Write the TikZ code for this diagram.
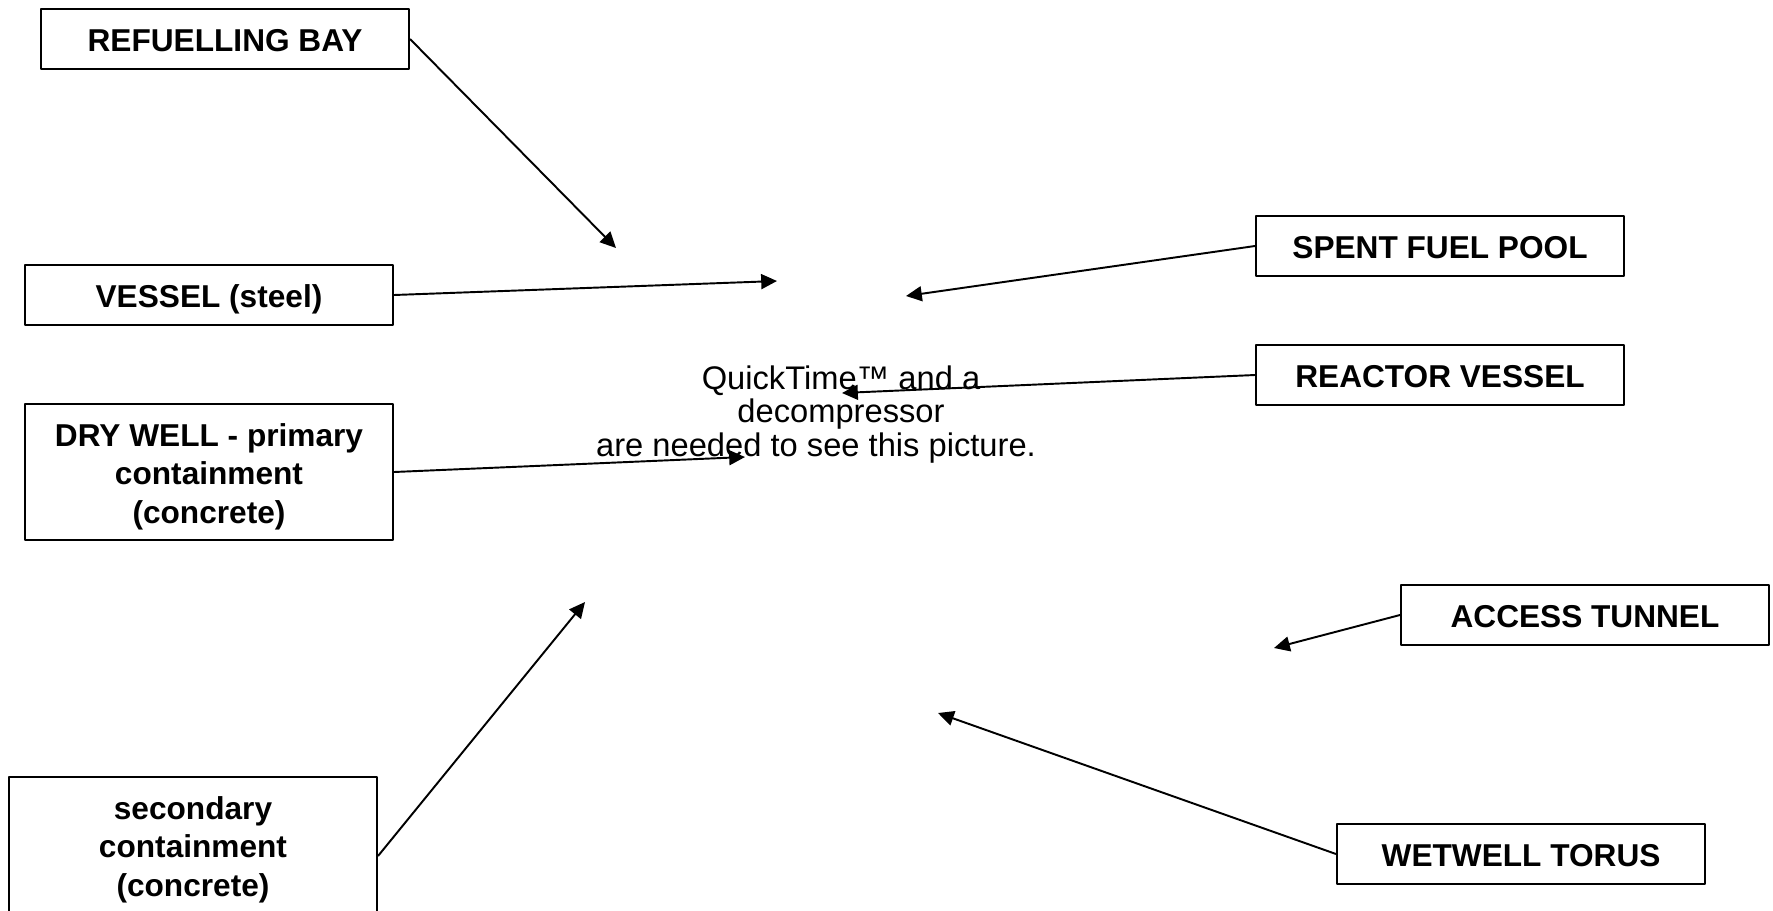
\documentclass[tikz,border=0pt]{standalone}
\usepackage{fontspec}
\setmainfont{Liberation Sans}
\usepackage{tikz}
\usetikzlibrary{arrows.meta,positioning}

\begin{document}
\begin{tikzpicture}[x=0.02cm,y=-0.02cm,line join=round,
    partbox/.style={draw,line width=1.2pt,align=center,inner xsep=2pt,inner ysep=0pt,
      minimum width=7.36cm,text height=24pt,text depth=10pt,
      font=\fontsize{18}{21.8}\selectfont\bfseries},
    tallbox/.style={partbox,text height=67.6pt,text depth=9.5pt},
    pointer/.style={line width=1.1pt,-{Triangle[length=9pt,width=8.5pt]}}]
  \useasboundingbox[fill=white] (0,0) rectangle (1773,910);

  % ---------- missing picture placeholder ----------
  \node[align=center,font=\fontsize{18.6}{18.9}\selectfont] (qt) at (841,414.5)
    {QuickTime™ and a\\decompressor\\are needed to see this picture.\kern1cm};

  % ---------- labels, left column ----------
  \node[partbox] (refuel) at (225,39) {REFUELLING BAY};
  \node[partbox] (vessel) at (209,295) {VESSEL (steel)};
  \node[tallbox] (drywell) at (209,472)
    {DRY WELL - primary\\containment\\(concrete)};
  \node[tallbox,text depth=22pt] (secondary) at (193,856)
    {secondary\\containment\\(concrete)};

  % ---------- labels, right column ----------
  \node[partbox] (spentpool) at (1440,246) {SPENT FUEL POOL};
  \node[partbox] (reactor) at (1440,375) {REACTOR VESSEL};
  \node[partbox] (access) at (1585,615) {ACCESS TUNNEL};
  \node[partbox] (wetwell) at (1521,854) {WETWELL TORUS};

  % ---------- where the arrows point ----------
  \coordinate (pRefuel) at (616,248);
  \coordinate (pVessel) at (777,281);
  \coordinate (pDry) at (745,457);
  \coordinate (pSecondary) at (585,602);
  \coordinate (pSpent) at (906,296);
  \coordinate (pReactor) at (842,393);
  \coordinate (pAccess) at (1274,648);
  \coordinate (pWet) at (938,713);

  \draw[pointer] (refuel.east) -- (pRefuel);
  \draw[pointer] (vessel.east) -- (pVessel);
  \draw[pointer] (drywell.east) -- (pDry);
  \draw[pointer] (secondary.east) -- (pSecondary);
  \draw[pointer] (spentpool.west) -- (pSpent);
  \draw[pointer] (reactor.west) -- (pReactor);
  \draw[pointer] (access.west) -- (pAccess);
  \draw[pointer] (wetwell.west) -- (pWet);
\end{tikzpicture}
\end{document}
